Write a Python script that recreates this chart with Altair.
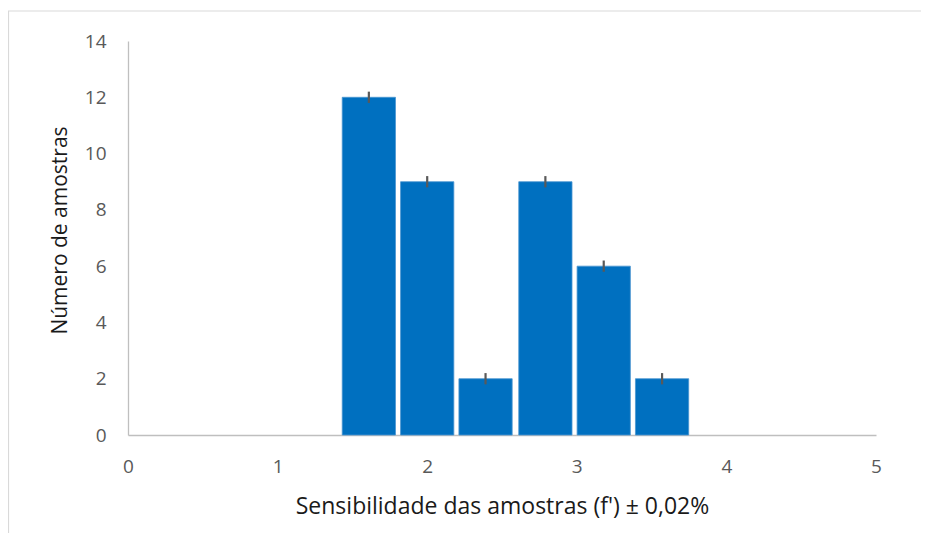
import altair as alt
import pandas as pd

# Data
centers = [1.61, 2.00, 2.39, 2.79, 3.18, 3.57]
counts = [12, 9, 2, 9, 6, 2]
errors = [0.2, 0.2, 0.2, 0.2, 0.2, 0.2]
x_ticks = [0, 1, 2, 3, 4, 5]
y_ticks = [0, 2, 4, 6, 8, 10, 12, 14]

half_w = 0.178
df = pd.DataFrame({"c": centers, "n": counts, "e": errors})
df["x0"] = df["c"] - half_w
df["x1"] = df["c"] + half_w
df["lo"] = df["n"] - df["e"]
df["hi"] = df["n"] + df["e"]

W, H = 748, 394
FONT = "Open Sans"

xscale = alt.Scale(domain=[0, 5], nice=False)
yscale = alt.Scale(domain=[0, 14], nice=False)

base = alt.Chart(df)

bars = base.mark_rect(color="#0070C0", stroke="#4A95D0", strokeWidth=0.8).encode(
    x=alt.X("x0:Q", scale=xscale,
            axis=alt.Axis(values=x_ticks, format="d",
                          title="Sensibilidade das amostras (f') ± 0,02%",
                          grid=False, ticks=False, domainColor="#BFBFBF", domainWidth=1.3,
                          labelColor="#595959", labelFontSize=19, labelFont=FONT,
                          labelPadding=22, labelFlush=False, titleFont=FONT,
                          titleFontSize=23, titleFontWeight="normal", titleColor="#1a1a1a",
                          titlePadding=19)),
    x2="x1:Q",
    y=alt.Y("n:Q", scale=yscale,
            axis=alt.Axis(values=y_ticks, format="d", title="Número de amostras",
                          grid=False, ticks=False,
                          domainColor="#BFBFBF", domainWidth=1.3, labelColor="#595959",
                          labelFontSize=19, labelFont=FONT, labelPadding=22,
                          labelFlush=False,
                          titleFont=FONT, titleFontSize=21, titleFontWeight="normal",
                          titleColor="#1a1a1a", titlePadding=14, titleY=189)),
    y2=alt.datum(0),
)

err = base.mark_rule(color="#595959", strokeWidth=2.2).encode(
    x=alt.X("c:Q", scale=xscale),
    y=alt.Y("lo:Q", scale=yscale),
    y2="hi:Q",
)

frame = alt.Chart(pd.DataFrame({"a": [0]})).mark_rect(
    fill=None, stroke="#D9D9D9", strokeWidth=1.2
).encode(
    x=alt.value(-119.5), x2=alt.value(W + 200),
    y=alt.value(-30), y2=alt.value(H + 200),
)

chart = alt.layer(frame, bars, err).properties(
    width=W, height=H,
    autosize=alt.AutoSizeParams(type="none"),
    padding={"left": 120, "top": 33, "right": 45, "bottom": 98},
).configure(background="white").configure_view(strokeWidth=0, stroke="transparent")

chart.save("out.html", embed_options={"renderer": "svg", "actions": False})
